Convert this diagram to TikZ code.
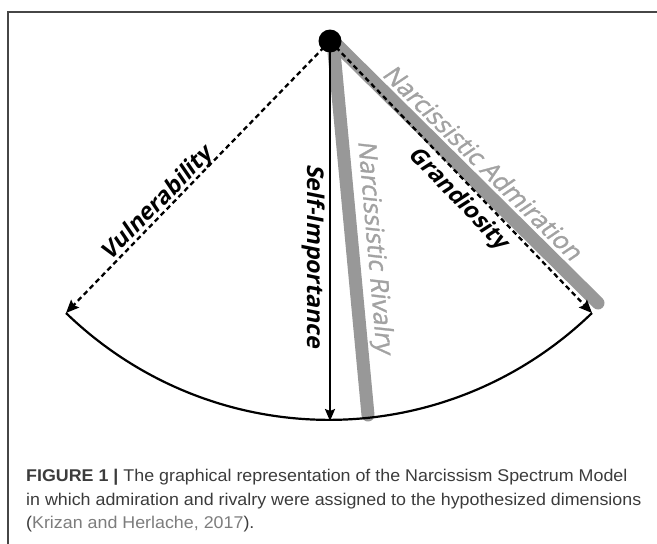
\documentclass[tikz,border=0pt]{standalone}
\usepackage{fontspec}
\setmainfont{Liberation Sans}
\newfontfamily\capfont{Liberation Sans}[FakeStretch=1.05]
\newfontfamily\labelfont{Open Sans}[FakeSlant=0.2]
\newfontfamily\graylabelfont{Open Sans}[FakeSlant=0.2, FakeBold=1.2]
\usetikzlibrary{arrows.meta}
\definecolor{lineGray}{RGB}{152,152,152}
\definecolor{textGray}{RGB}{162,162,162}
\definecolor{capText}{RGB}{60,60,60}
\definecolor{citeGray}{RGB}{125,125,125}
\definecolor{frameGray}{RGB}{70,70,70}
\tikzset{
  grayband/.style={line width=13pt, lineGray, line cap=round},
  darrow/.style={line width=2.3pt, dash pattern=on 5pt off 3.5pt, -{Stealth[length=13pt,width=11pt,inset=2pt]}},
  sarrow/.style={line width=2pt, -{Stealth[length=12pt,width=10pt,inset=2pt]}},
  arcline/.style={line width=2.2pt},
  apexdot/.style={circle, fill=black, minimum size=23pt, inner sep=0pt},
  blacklab/.style={font=\labelfont\bfseries\fontsize{23}{23}\selectfont, inner sep=0pt, text=black},
  graylab/.style={font=\graylabelfont\fontsize{25}{25}\selectfont, inner sep=0pt, text=textGray},
  captext/.style={font=\capfont\fontsize{17}{24}\selectfont, text=capText, inner sep=0pt, anchor=base west}
}
\begin{document}
\begin{tikzpicture}[x=1pt,y=-1pt]
\useasboundingbox (0,0) rectangle (657,544);
\fill[white] (0,0) rectangle (657,544);
\draw[frameGray, line width=1.2pt] (8,560) -- (8,12) -- (670,12);

\coordinate (apex) at (330,41);
\coordinate (grayStart) at (333,41);
\coordinate (L) at (66,313);
\coordinate (R) at (592,313);
\coordinate (B) at (330,421);
\coordinate (rivEnd) at (368,415);
\coordinate (admEnd) at (598,303);

\draw[grayband] (grayStart) -- (rivEnd);
\draw[grayband] (grayStart) -- (admEnd);

\draw[darrow] (apex) -- (L);
\draw[darrow] (apex) -- (R);
\draw[sarrow] (apex) -- (B);
\draw[arcline] (L) to[bend right=44] (R);

\node[apexdot] (dot) at (apex) {};

\node[blacklab, rotate=45.7] (vul) at (158,204) {Vulnerability};
\node[blacklab, rotate=-90] (self) at (314,256) {Self-Importance};
\node[blacklab, rotate=-46] (grand) at (458,199) {Grandiosity};
\node[graylab, rotate=-85] (riv) at (374,247) {Narcissistic Rivalry};
\node[graylab, rotate=-44.5] (adm) at (483,162) {Narcissistic Admiration};

\node[captext] (cap1) at (26,481) {\textbf{FIGURE 1 |} The graphical representation of the Narcissism Spectrum Model};
\node[captext] (cap2) at (26,505) {in which admiration and rivalry were assigned to the hypothesized dimensions};
\node[captext] (cap3) at (26,528) {(\textcolor{citeGray}{Krizan and Herlache, 2017}).};
\end{tikzpicture}
\end{document}
